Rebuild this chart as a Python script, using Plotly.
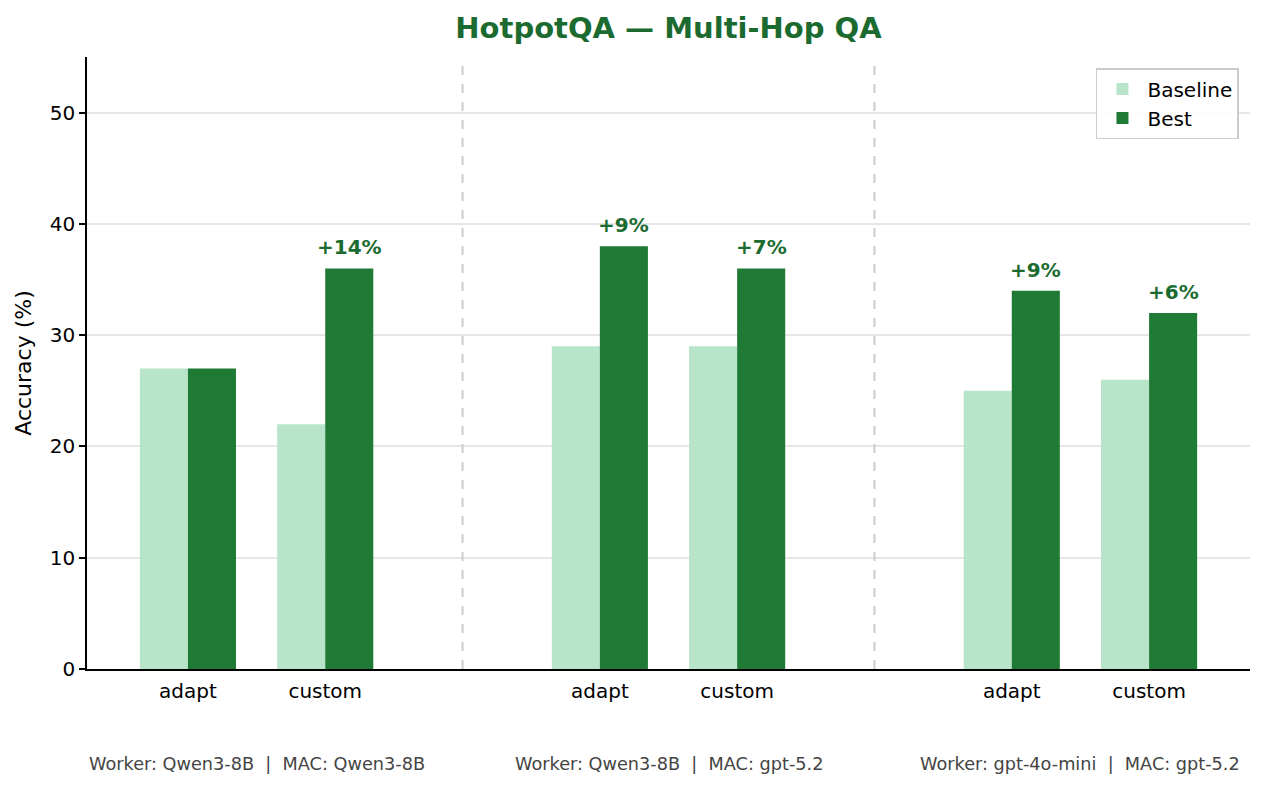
import plotly.graph_objects as go

categories = ["adapt", "custom", "adapt", "custom", "adapt", "custom"]
positions = [0, 1, 3, 4, 6, 7]
baseline = [27, 22, 29, 29, 25, 26]
best = [27, 36, 38, 36, 34, 32]
group_labels = [
    "Worker: Qwen3-8B  |  MAC: Qwen3-8B",
    "Worker: Qwen3-8B  |  MAC: gpt-5.2",
    "Worker: gpt-4o-mini  |  MAC: gpt-5.2",
]
group_centers = [0.5, 3.5, 6.5]
separators = [2, 5]

C_BASE = "#b8e4c9"
C_BEST = "#1f7a35"
C_TITLE = "#1b6b30"
FONT = "DejaVu Sans"
W = 0.35

fig = go.Figure()
fig.add_trace(go.Bar(x=positions, y=baseline, name="Baseline", marker_color=C_BASE,
                     width=W, offset=-W, marker_line_width=0))
fig.add_trace(go.Bar(x=positions, y=best, name="Best", marker_color=C_BEST,
                     width=W, offset=0, marker_line_width=0))

for p, b0, b1 in zip(positions, baseline, best):
    d = b1 - b0
    if d > 0:
        fig.add_annotation(x=p + W / 2, y=b1, text=f"<b>+{d}%</b>", showarrow=False,
                           yanchor="bottom", yshift=7,
                           font=dict(family=FONT, size=20, color=C_TITLE))

for gx, gl in zip(group_centers, group_labels):
    fig.add_annotation(x=gx, y=-0.155, xref="x", yref="paper", text=gl, showarrow=False,
                       yanchor="middle", font=dict(family=FONT, size=17.7, color="#444444"))

for s in separators:
    fig.add_shape(type="line", x0=s, x1=s, y0=0, y1=1, xref="x", yref="paper",
                  line=dict(color="#cccccc", width=2, dash="dash"))

fig.update_layout(
    width=1264, height=788,
    margin=dict(l=87, r=14, t=57, b=119),
    paper_bgcolor="white", plot_bgcolor="white",
    barmode="overlay",
    font=dict(family=FONT, size=20, color="black"),
    title=dict(text="<b>HotpotQA — Multi-Hop QA</b>", x=0.5, xref="paper",
               y=1 - 28 / 788, yref="container", yanchor="middle",
               font=dict(family=FONT, size=29, color=C_TITLE)),
    legend=dict(x=0.9905, y=0.982, xanchor="right", yanchor="top",
                bordercolor="#cccccc", borderwidth=1.5, bgcolor="rgba(255,255,255,0.9)",
                itemwidth=40, tracegroupgap=0,
                font=dict(family=FONT, size=20, color="black")),
    showlegend=True,
)
fig.update_xaxes(range=[-0.735, 7.735], tickvals=positions, ticktext=categories,
                 showline=True, linecolor="black", linewidth=1.5, ticks="",
                 ticklabelstandoff=3, showgrid=False, zeroline=False,
                 tickfont=dict(family=FONT, size=20, color="black"))
fig.update_yaxes(range=[0, 55], tickvals=[0, 10, 20, 30, 40, 50],
                 showline=True, linecolor="black", linewidth=1.5,
                 ticks="outside", ticklen=6, tickcolor="black", tickwidth=1.5,
                 showgrid=True, gridcolor="#e6e6e6", gridwidth=1.5, zeroline=False,
                 title=dict(text="Accuracy (%)", standoff=12,
                            font=dict(family=FONT, size=22, color="black")),
                 tickfont=dict(family=FONT, size=20, color="black"))

fig.write_html("out.html", config={"displayModeBar": False},
               post_script="document.body.style.margin='0';document.body.style.overflow='hidden';")
